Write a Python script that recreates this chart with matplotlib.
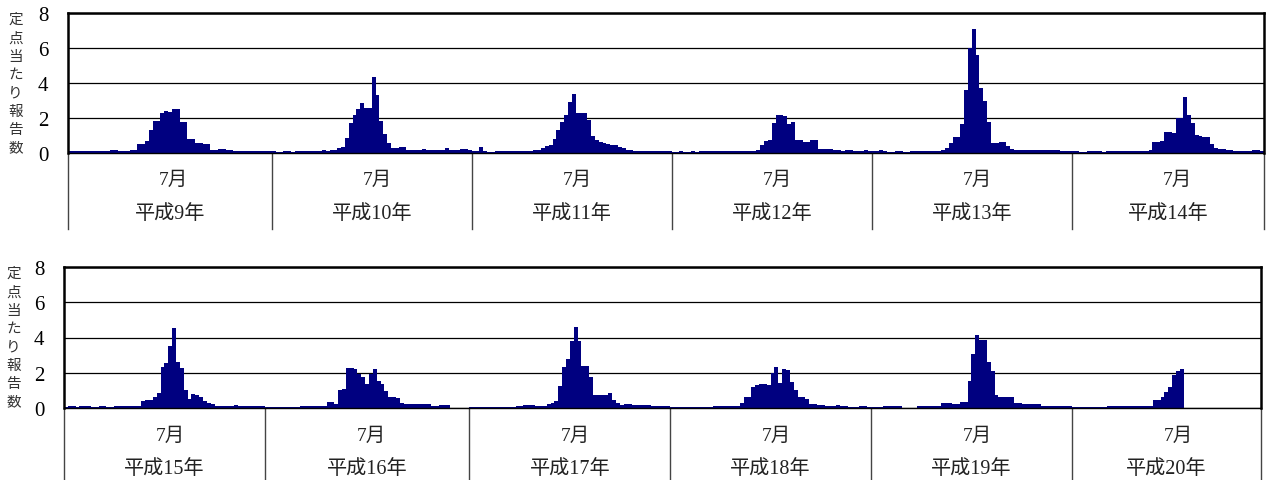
import numpy as np
import matplotlib
matplotlib.use("Agg")
import matplotlib.pyplot as plt
from matplotlib.transforms import blended_transform_factory

plt.rcParams['font.family'] = ['Liberation Serif', 'Noto Sans CJK JP']

# weekly reports per sentinel, one list per year
h9 = [0.12, 0.1, 0.1, 0.1, 0.12, 0.12, 0.1, 0.12, 0.14, 0.12, 0.12, 0.16, 0.16, 0.12, 0.1, 0.12,
      0.16, 0.2, 0.5, 0.5, 0.7, 1.3, 1.85, 1.85, 2.3, 2.4, 2.35, 2.5, 2.5, 1.75, 1.75,
      0.8, 0.8, 0.55, 0.55, 0.5, 0.5, 0.16, 0.2, 0.25, 0.25, 0.2, 0.16, 0.12, 0.14, 0.14,
      0.12, 0.12, 0.12, 0.1, 0.12, 0.12, 0.14]
h10 = [0.1, 0.08, 0.08, 0.1, 0.1, 0.08, 0.1, 0.12, 0.12, 0.12, 0.14, 0.12, 0.12, 0.16, 0.14, 0.2, 0.2,
       0.3, 0.35, 0.85, 1.7, 2.2, 2.5, 2.85, 2.6, 2.6, 4.35, 3.3, 1.85, 1.1, 0.6, 0.3,
       0.3, 0.35, 0.35, 0.16, 0.16, 0.2, 0.2, 0.25, 0.16, 0.16, 0.16, 0.16, 0.16, 0.3, 0.16,
       0.16, 0.16, 0.25, 0.25, 0.16]
h11 = [0.12, 0.12, 0.35, 0.09, 0.08, 0.08, 0.09, 0.09, 0.1, 0.1, 0.09, 0.09,
       0.1, 0.1, 0.12, 0.12, 0.16, 0.16, 0.3, 0.4, 0.45, 0.8,
       1.3, 1.8, 2.2, 2.9, 3.4, 2.3, 2.3, 2.3, 1.9, 1.0,
       0.75, 0.65, 0.6, 0.5, 0.45, 0.45, 0.35, 0.3, 0.2, 0.16,
       0.12, 0.12, 0.1, 0.1, 0.12, 0.1, 0.1, 0.12, 0.14, 0.1]
h12 = [0.08, 0.08, 0.09, 0.08, 0.08, 0.09, 0.08, 0.12, 0.12, 0.12,
       0.1, 0.09, 0.1, 0.1, 0.09, 0.1, 0.1, 0.09, 0.1, 0.1, 0.1,
       0.12, 0.16, 0.45, 0.7, 0.75, 1.7, 2.2, 2.2, 2.1, 1.65, 1.75,
       0.75, 0.75, 0.65, 0.65, 0.75, 0.75, 0.25, 0.25, 0.25, 0.25,
       0.2, 0.2, 0.12, 0.16, 0.16, 0.12, 0.12, 0.12, 0.16, 0.12]
h13 = [0.09, 0.1, 0.16, 0.12, 0.08, 0.08, 0.09, 0.09, 0.08, 0.08, 0.1, 0.09, 0.12, 0.1, 0.09, 0.09, 0.1, 0.12,
       0.16, 0.3, 0.55, 0.9, 0.9, 1.65, 3.6, 6.0, 7.1, 5.6, 3.7, 3.0, 1.8, 0.55, 0.6,
       0.65, 0.65, 0.4, 0.25, 0.2, 0.2, 0.2, 0.2, 0.2, 0.2, 0.2, 0.2,
       0.16, 0.16, 0.16, 0.16, 0.12, 0.12, 0.12]
h14 = [0.09, 0.09, 0.08, 0.08, 0.1, 0.09, 0.09, 0.1, 0.08, 0.09, 0.09, 0.1, 0.09, 0.09, 0.1, 0.1, 0.09, 0.12,
       0.12, 0.14, 0.16, 0.65, 0.65, 0.7, 1.2, 1.2, 1.15, 2.0,
       2.0, 3.2, 2.2, 1.7, 1.05, 0.95, 0.9, 0.9, 0.5, 0.3,
       0.25, 0.25, 0.2, 0.16, 0.12, 0.1, 0.1, 0.1, 0.1, 0.16, 0.16, 0.12]

h15 = [0.08, 0.09, 0.09, 0.08, 0.09, 0.1, 0.09, 0.08, 0.08, 0.09, 0.09, 0.08, 0.08,
       0.12, 0.12, 0.14, 0.12, 0.12, 0.14, 0.14,
       0.4, 0.45, 0.45, 0.65, 0.85, 2.3, 2.55, 3.5, 4.55, 2.6,
       2.25, 1.0, 0.5, 0.8, 0.75, 0.6, 0.4, 0.3, 0.2, 0.12,
       0.12, 0.12, 0.12, 0.12, 0.16, 0.12, 0.12, 0.1, 0.12, 0.1, 0.1, 0.09]
h16 = [0.08, 0.08, 0.08, 0.08, 0.08, 0.08, 0.08, 0.08, 0.08,
       0.12, 0.12, 0.12, 0.12, 0.14, 0.14, 0.14, 0.35, 0.35, 0.2,
       1.0, 1.1, 2.25, 2.25, 2.2, 1.95, 1.75, 1.35, 1.95, 2.2,
       1.55, 1.35, 0.95, 0.6, 0.6, 0.55, 0.3, 0.2, 0.2, 0.25,
       0.25, 0.2, 0.25, 0.25, 0.12, 0.12, 0.16, 0.16, 0.16, 0.0, 0.0, 0.0, 0.0, 0.0]
h17 = [0.08, 0.08, 0.08, 0.08, 0.08, 0.08, 0.08, 0.08, 0.08, 0.08, 0.08, 0.08,
       0.1, 0.1, 0.16, 0.16, 0.16, 0.12, 0.12, 0.12,
       0.2, 0.3, 0.4, 1.25, 2.3, 2.8, 3.8, 4.6, 3.8, 2.4,
       2.4, 1.75, 0.75, 0.75, 0.75, 0.75, 0.85, 0.47, 0.3, 0.16,
       0.25, 0.25, 0.16, 0.16, 0.16, 0.16, 0.16, 0.12, 0.12, 0.12, 0.12, 0.1]
h18 = [0.08, 0.08, 0.08, 0.08, 0.08, 0.08, 0.08, 0.08, 0.08, 0.08, 0.08,
       0.1, 0.1, 0.1, 0.1, 0.14, 0.14, 0.14,
       0.3, 0.65, 0.65, 1.2, 1.3, 1.35, 1.35, 1.3, 2.0, 2.3,
       1.4, 2.2, 2.15, 1.45, 1.0, 0.6, 0.6, 0.5, 0.25, 0.2,
       0.16, 0.16, 0.14, 0.14, 0.14, 0.16, 0.12, 0.12, 0.08, 0.08, 0.08, 0.14, 0.14, 0.08]
h19 = [0.06, 0.06, 0.06, 0.12, 0.12, 0.09, 0.09, 0.09, 0.0, 0.0, 0.0, 0.0,
       0.09, 0.09, 0.09, 0.09, 0.09, 0.09,
       0.3, 0.3, 0.3, 0.25, 0.25, 0.35, 0.35, 1.55, 3.05, 4.15,
       3.85, 3.85, 2.6, 2.1, 0.75, 0.6, 0.65, 0.65, 0.65, 0.3,
       0.3, 0.25, 0.25, 0.2, 0.2, 0.25, 0.12, 0.1, 0.1, 0.1, 0.1, 0.1, 0.1, 0.1]
h20 = [0.08, 0.08, 0.08, 0.08, 0.08, 0.08, 0.08, 0.08, 0.08,
       0.09, 0.09, 0.09, 0.09, 0.09, 0.09, 0.1, 0.1, 0.1, 0.1,
       0.12, 0.14, 0.45, 0.45, 0.6, 0.9, 1.2, 1.9, 2.1, 2.2]

top_years = ['平成9年', '平成10年', '平成11年', '平成12年', '平成13年', '平成14年']
top_weeks = [53, 52, 52, 52, 52, 50]
top_data = [h9, h10, h11, h12, h13, h14]

bottom_years = ['平成15年', '平成16年', '平成17年', '平成18年', '平成19年', '平成20年']
bottom_weeks = [52, 53, 52, 52, 52, 49]
bottom_data = [h15, h16, h17, h18, h19, h20]

yticks = [0, 2, 4, 6, 8]
july_week = 27
ylabel = '定点当たり報告数'

fig = plt.figure(figsize=(12.66, 4.81), dpi=100)
ax1 = fig.add_axes([68 / 1266, 327 / 481, 1196 / 1266, 140 / 481])
ax2 = fig.add_axes([64 / 1266, 72 / 481, 1197 / 1266, 141 / 481])


def draw_panel(ax, names, weeks, data, sep_depth):
    xs, ys = [], []
    start = 0
    for n, vals in zip(weeks, data):
        xs.extend(start + np.arange(len(vals)))
        ys.extend(vals)
        start += n
    ax.bar(xs, ys, width=1.0, align='edge', color='#000080', linewidth=0)
    ax.set_xlim(0, sum(weeks))
    ax.set_ylim(0, 8)
    ax.set_yticks(yticks)
    ax.set_xticks([])
    ax.tick_params(axis='y', length=0, pad=14, labelsize=15)
    ax.grid(axis='y', color='black', linewidth=0.9)
    ax.set_axisbelow(True)
    for side in ['left', 'top', 'right']:
        ax.spines[side].set_linewidth(1.8)
    ax.spines['bottom'].set_linewidth(1.0)

    trans = blended_transform_factory(ax.transData, ax.transAxes)
    edges = np.concatenate([[0], np.cumsum(weeks)])
    for e in edges:
        ax.plot([e, e], [0, -sep_depth], transform=trans, color='#444444',
                linewidth=1.0, clip_on=False)
    for s, n, name in zip(edges[:-1], weeks, names):
        ax.text(s + july_week + 0.5, -0.19, '7月', transform=trans,
                ha='center', va='center', fontsize=14, color='#222222')
        ax.text(s + n / 2, -0.43, name, transform=trans,
                ha='center', va='center', fontsize=14.5, color='#222222')


draw_panel(ax1, top_years, top_weeks, top_data, 0.543)
draw_panel(ax2, bottom_years, bottom_weeks, bottom_data, 0.52)

# stacked vertical y label
for x0, y0 in [(15.7, 20), (13.5, 274)]:
    for k, ch in enumerate(ylabel):
        fig.text(x0 / 1266, 1 - (y0 + k * 18.3) / 481, ch, ha='center', va='center',
                 fontsize=10.5, family=['Noto Sans CJK JP'], color='#333333')

fig.savefig('out.png', dpi=100)
